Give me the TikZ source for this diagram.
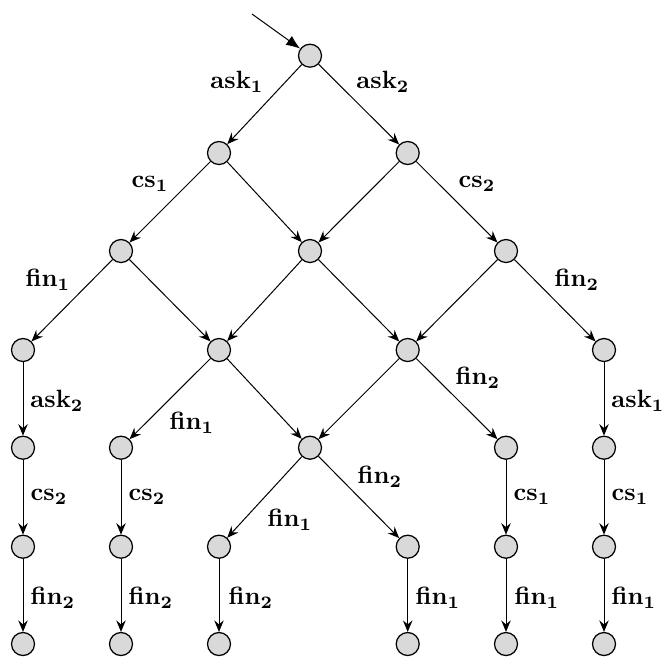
\documentclass[tikz,border=0pt]{standalone}
\usetikzlibrary{arrows.meta}
\newcommand\lab[2]{\textbf{#1}{\boldmath$_{#2}$}}
\begin{document}
\begin{tikzpicture}[x=0.4pt,y=-0.4pt,
  state/.style={circle,draw=black,line width=0.5pt,fill=black!15,minimum size=9.2pt,inner sep=0pt},
  edge/.style={-{Stealth[length=4.6pt,width=3.8pt,inset=1.6pt]},line width=0.4pt},
  initedge/.style={-{Latex[length=5.6pt,width=4.4pt]},line width=0.4pt},
  lbl/.style={inner sep=0pt}]
\useasboundingbox (0,0) rectangle (665,656);
% nodes
\node[state] (T) at (310,55.7) {};
\node[state] (A) at (219,153) {};
\node[state] (B) at (407.7,153) {};
\node[state] (C1) at (121,251) {};
\node[state] (C2) at (310,251) {};
\node[state] (C3) at (506,251) {};
\node[state] (D1) at (23,350) {};
\node[state] (D2) at (219,350) {};
\node[state] (D3) at (407.7,350) {};
\node[state] (D4) at (604,350) {};
\node[state] (E1) at (23,447.7) {};
\node[state] (E2) at (121,447.7) {};
\node[state] (E3) at (310,447.7) {};
\node[state] (E4) at (506,447.7) {};
\node[state] (E5) at (604,447.7) {};
\node[state] (F1) at (23,546.7) {};
\node[state] (F2) at (121,546.7) {};
\node[state] (F3) at (219,546.7) {};
\node[state] (F4) at (407.7,546.7) {};
\node[state] (F5) at (506,546.7) {};
\node[state] (F6) at (604,546.7) {};
\node[state] (G1) at (23,644) {};
\node[state] (G2) at (121,644) {};
\node[state] (G3) at (219,644) {};
\node[state] (G4) at (407.7,644) {};
\node[state] (G5) at (506,644) {};
\node[state] (G6) at (604,644) {};
\coordinate (S) at (252,14);
% edges
\draw[initedge] (S) -- (T);
\draw[edge] (T) -- (A);
\draw[edge] (T) -- (B);
\draw[edge] (A) -- (C1);
\draw[edge] (A) -- (C2);
\draw[edge] (B) -- (C2);
\draw[edge] (B) -- (C3);
\draw[edge] (C1) -- (D1);
\draw[edge] (C1) -- (D2);
\draw[edge] (C2) -- (D2);
\draw[edge] (C2) -- (D3);
\draw[edge] (C3) -- (D3);
\draw[edge] (C3) -- (D4);
\draw[edge] (D1) -- (E1);
\draw[edge] (D2) -- (E2);
\draw[edge] (D2) -- (E3);
\draw[edge] (D3) -- (E3);
\draw[edge] (D3) -- (E4);
\draw[edge] (D4) -- (E5);
\draw[edge] (E1) -- (F1);
\draw[edge] (E2) -- (F2);
\draw[edge] (E3) -- (F3);
\draw[edge] (E3) -- (F4);
\draw[edge] (E4) -- (F5);
\draw[edge] (E5) -- (F6);
\draw[edge] (F1) -- (G1);
\draw[edge] (F2) -- (G2);
\draw[edge] (F3) -- (G3);
\draw[edge] (F4) -- (G4);
\draw[edge] (F5) -- (G5);
\draw[edge] (F6) -- (G6);
% labels
\node[lbl] (l1) at (237,82) {\lab{ask}{1}};
\node[lbl] (l2) at (383,82) {\lab{ask}{2}};
\node[lbl] (l3) at (150,184) {\lab{cs}{1}};
\node[lbl] (l4) at (477,184) {\lab{cs}{2}};
\node[lbl] (l5) at (48,280) {\lab{fin}{1}};
\node[lbl] (l6) at (577,280) {\lab{fin}{2}};
\node[lbl] (l7) at (57,401) {\lab{ask}{2}};
\node[lbl] (l8) at (192,423) {\lab{fin}{1}};
\node[lbl] (l9) at (478,378) {\lab{fin}{2}};
\node[lbl] (l10) at (638,401) {\lab{ask}{1}};
\node[lbl] (l11) at (290,520) {\lab{fin}{1}};
\node[lbl] (l12) at (380,477) {\lab{fin}{2}};
\node[lbl] (l13) at (49,497) {\lab{cs}{2}};
\node[lbl] (l14) at (147,497) {\lab{cs}{2}};
\node[lbl] (l15) at (532,497) {\lab{cs}{1}};
\node[lbl] (l16) at (630,497) {\lab{cs}{1}};
\node[lbl] (l17) at (53,598) {\lab{fin}{2}};
\node[lbl] (l18) at (151,598) {\lab{fin}{2}};
\node[lbl] (l19) at (251,598) {\lab{fin}{2}};
\node[lbl] (l20) at (438,598) {\lab{fin}{1}};
\node[lbl] (l21) at (537,598) {\lab{fin}{1}};
\node[lbl] (l22) at (634,598) {\lab{fin}{1}};
\end{tikzpicture}
\end{document}
